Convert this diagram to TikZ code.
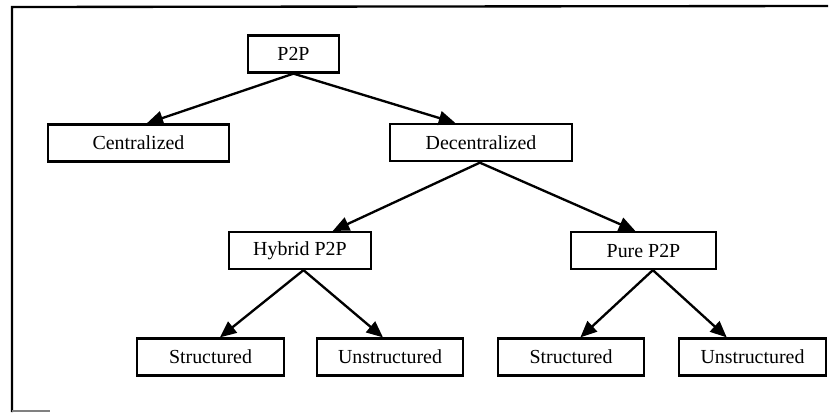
\documentclass[tikz,border=0pt]{standalone}
\usepackage{fontspec}
\setmainfont{Liberation Serif}
\usetikzlibrary{arrows.meta}
\begin{document}
\begin{tikzpicture}[x=0.03cm,y=-0.03cm,
  box/.style={draw, line width=2.2pt, minimum height=1.1cm, inner sep=0pt,
    font=\fontsize{17}{20}\selectfont},
  link/.style={line width=2pt, -{Triangle[length=14pt,width=12pt]}}]
\useasboundingbox (0,0) rectangle (833,416);
% outer frame (only top and left edges survive)
\draw[line width=2pt] (828,6) -- (12,7) -- (12,412);
\draw[line width=2pt, gray] (12,411) -- (50,411);
% tree nodes
\node[box, minimum width=2.73cm] (p2p) at (293.5,54) {P2P};
\node[box, minimum width=5.43cm] (cent) at (138.5,143) {Centralized};
\node[box, minimum width=5.46cm] (decent) at (481,142.5) {Decentralized};
\node[box, minimum width=4.26cm] (hybrid) at (300,250.5) {Hybrid P2P};
\node[box, minimum width=4.35cm] (pure) at (643.5,250.5) {Pure P2P};
\node[box, minimum width=4.41cm] (hstruct) at (210.5,357) {Structured};
\node[box, minimum width=4.38cm] (hunstruct) at (390,357) {Unstructured};
\node[box, minimum width=4.38cm] (pstruct) at (571,357) {Structured};
\node[box, minimum width=4.41cm] (punstruct) at (752.5,357) {Unstructured};
% connectors
\draw[link] (p2p.south) -- ([xshift=7pt]cent.north);
\draw[link] (p2p.south) -- ([xshift=-22pt]decent.north);
\draw[link] (decent.south) -- ([xshift=28pt]hybrid.north);
\draw[link] ([xshift=-2pt]decent.south) -- ([xshift=-7pt]pure.north);
\draw[link] ([xshift=3pt]hybrid.south) -- ([xshift=8pt]hstruct.north);
\draw[link] ([xshift=3pt]hybrid.south) -- ([xshift=-6pt]hunstruct.north);
\draw[link] ([xshift=8pt]pure.south) -- ([xshift=8pt]pstruct.north);
\draw[link] ([xshift=8pt]pure.south) -- ([xshift=-22pt]punstruct.north);
\end{tikzpicture}
\end{document}
